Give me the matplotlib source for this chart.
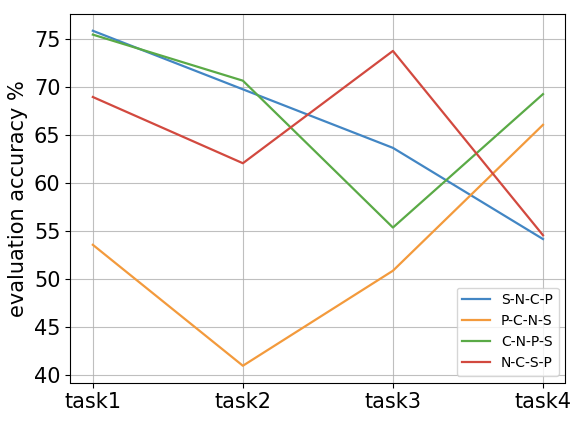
import matplotlib
matplotlib.use('Agg')
import matplotlib.pyplot as plt

tasks = ['task1', 'task2', 'task3', 'task4']
s_n_c_p = [75.9, 69.8, 63.7, 54.2]
p_c_n_s = [53.6, 41.0, 50.9, 66.1]
c_n_p_s = [75.5, 70.7, 55.4, 69.3]
n_c_s_p = [69.0, 62.1, 73.8, 54.6]

series = [('S-N-C-P', s_n_c_p, '#4286c4'),
          ('P-C-N-S', p_c_n_s, '#f39a3c'),
          ('C-N-P-S', c_n_p_s, '#5aaa46'),
          ('N-C-S-P', n_c_s_p, '#d2493f')]

fig, ax = plt.subplots(figsize=(5.86, 4.25), dpi=100)
for name, vals, col in series:
    ax.plot(tasks, vals, color=col, lw=1.6, label=name)

ax.grid(True, color='#b0b0b0', alpha=0.8)
ax.set_ylabel('evaluation accuracy %', fontsize=15)
ax.tick_params(axis='both', labelsize=15)
ax.set_yticks([40, 45, 50, 55, 60, 65, 70, 75])
ax.legend(loc='lower right', fontsize=10)

fig.subplots_adjust(left=0.12, right=0.965, top=0.967, bottom=0.1)
fig.savefig('out.png', dpi=100)
